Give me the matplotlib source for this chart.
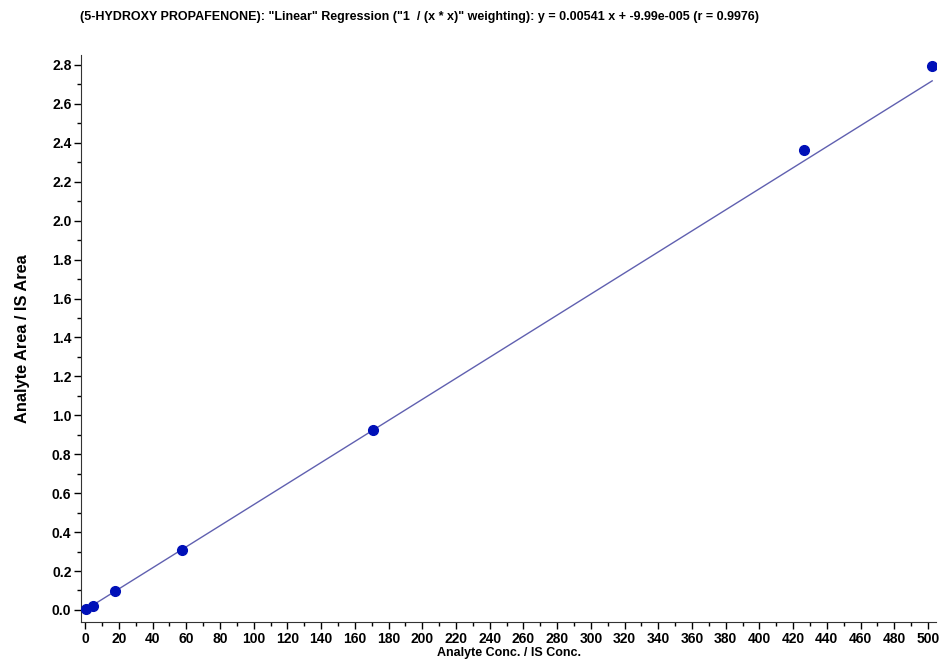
import matplotlib.pyplot as plt
import numpy as np
from matplotlib.ticker import MultipleLocator

# calibration points
conc = [0.5, 4.7, 17.8, 57.5, 170.5, 426.5, 502.5]
ratio = [0.003, 0.022, 0.097, 0.308, 0.922, 2.362, 2.795]

# regression from the title
slope = 0.00541
intercept = -9.99e-005

title = ('(5-HYDROXY PROPAFENONE): "Linear" Regression ("1  / (x * x)" weighting): '
         'y = 0.00541 x + -9.99e-005 (r = 0.9976)')

plt.rcParams['font.family'] = ['Liberation Sans', 'DejaVu Sans']
plt.rcParams['font.weight'] = 'bold'

fig = plt.figure(figsize=(9.43, 6.61), dpi=100)
ax = fig.add_axes([0.086, 0.059, 0.907, 0.858])

xfit = np.array([min(conc), max(conc)])
ax.plot(xfit, slope * xfit + intercept, color='#6060b0', lw=1.0, zorder=2)
ax.plot(conc, ratio, 'o', color='#0010b8', markersize=7, zorder=3)

ax.set_xlim(-2.4, 505)
ax.set_ylim(-0.062, 2.852)

ax.xaxis.set_major_locator(MultipleLocator(20))
ax.xaxis.set_minor_locator(MultipleLocator(10))
ax.yaxis.set_major_locator(MultipleLocator(0.2))
ax.yaxis.set_minor_locator(MultipleLocator(0.1))
ax.yaxis.set_major_formatter(plt.FormatStrFormatter('%.1f'))

ax.tick_params(which='major', length=5, width=1, labelsize=10, pad=2)
ax.tick_params(which='minor', length=3, width=1)
for lbl in ax.get_xticklabels() + ax.get_yticklabels():
    lbl.set_fontweight('bold')

ax.spines['top'].set_visible(False)
ax.spines['right'].set_visible(False)
ax.spines['left'].set_color('#333333')
ax.spines['bottom'].set_color('#333333')

ax.set_xlabel('Analyte Conc. / IS Conc.', fontsize=9, fontweight='bold', labelpad=1)
ax.set_ylabel('Analyte Area / IS Area', fontsize=11.8, fontweight='bold', labelpad=16)

fig.text(0.085, 0.974, title, fontsize=9.0, fontweight='bold', ha='left', va='center')

fig.savefig('out.png', dpi=100)
